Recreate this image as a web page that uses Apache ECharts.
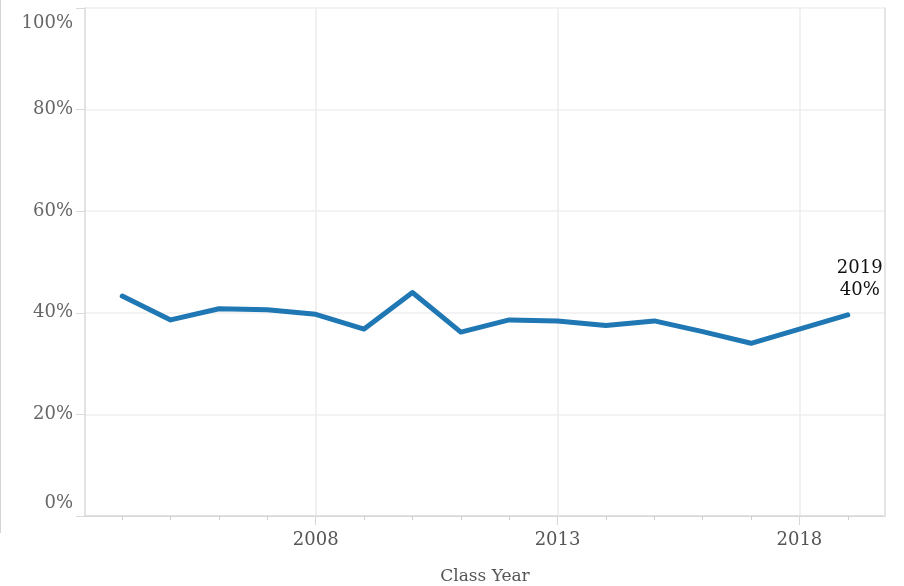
<!DOCTYPE html>
<html>
<head>
<meta charset="utf-8">
<script src="https://cdn.jsdelivr.net/npm/echarts@6/dist/echarts.min.js"></script>
<style>
  html, body { margin: 0; padding: 0; background: #fff; }
  #wrap { position: relative; width: 904px; height: 586px; }
  #edge { position: absolute; left: 0; top: 0; width: 1px; height: 533px; background: #d4d4d4; }
  #chart { position: absolute; left: 0; top: 0; width: 904px; height: 586px; }
</style>
</head>
<body>
<div id="wrap">
  <div id="chart"></div>
  <div id="edge"></div>
</div>
<script>
const years = [2004, 2005, 2006, 2007, 2008, 2009, 2010, 2011, 2012, 2013, 2014, 2015, 2016, 2017, 2018, 2019]
const rates = [43.3, 38.6, 40.8, 40.6, 39.7, 36.8, 44.0, 36.2, 38.6, 38.4, 37.5, 38.4, 36.3, 34.0, 36.8, 39.6]
const yearLabels = [2008, 2013, 2018]

const font = 'DejaVu Serif'
const xMin = 2003.23
const xMax = 2019.77

const myChart = echarts.init(document.getElementById('chart'))

const points = years.map((y, i) => {
  const item = {value: [y, rates[i]]}
  if (i === years.length - 1) {
    item.label = {
      show: true,
      position: 'top',
      distance: 14,
      offset: [12, 0],
      color: '#111',
      fontFamily: font,
      fontSize: 18,
      lineHeight: 22,
      formatter: p => p.value[0] + '\n' + Math.round(p.value[1]) + '%'
    }
  }
  return item
})

const options = {
  animation: false,
  grid: {left: 85, top: 8, right: 19, bottom: 70, outerBoundsMode: 'none', containLabel: false},
  xAxis: [
    {
      type: 'value',
      min: xMin,
      max: xMax,
      axisLine: {show: true, lineStyle: {color: '#c4c4c4', type: [3, 2], width: 1}},
      axisTick: {show: true, length: 4, customValues: years, lineStyle: {color: '#cfcfcf'}},
      axisLabel: {show: false},
      splitLine: {show: false}
    },
    {
      type: 'value',
      position: 'top',
      min: xMin,
      max: xMax,
      axisLine: {show: true, lineStyle: {color: '#dcdcdc', width: 1.5}},
      axisTick: {show: false},
      axisLabel: {show: false},
      splitLine: {show: false}
    },
    {
      type: 'value',
      position: 'bottom',
      min: xMin,
      max: xMax,
      name: 'Class Year',
      nameLocation: 'middle',
      nameGap: 52,
      nameTextStyle: {color: '#555', fontFamily: font, fontSize: 17},
      axisLine: {show: false},
      axisTick: {show: true, length: 9, customValues: yearLabels, lineStyle: {color: '#d6d6d6'}},
      axisLabel: {
        show: true,
        customValues: yearLabels,
        margin: 15,
        color: '#555',
        fontFamily: font,
        fontSize: 18,
        formatter: v => String(v)
      },
      splitLine: {show: true, lineStyle: {color: '#ececec', width: 1.5}}
    }
  ],
  yAxis: [
    {
      type: 'value',
      min: 0,
      max: 100,
      interval: 20,
      axisLine: {show: true, lineStyle: {color: '#dadada', width: 1.5}},
      axisTick: {show: true, length: 9, lineStyle: {color: '#dadada'}},
      axisLabel: {
        color: '#666',
        fontFamily: font,
        fontSize: 18,
        margin: 12,
        verticalAlignMinLabel: 'bottom',
        verticalAlignMaxLabel: 'top',
        formatter: v => v === 100 ? '{top|' + v + '%}' : v === 0 ? '{bot|' + v + '%}' : v + '%',
        rich: {
          top: {color: '#666', fontFamily: font, fontSize: 18, padding: [6, 0, 0, 0]},
          bot: {color: '#666', fontFamily: font, fontSize: 18, padding: [0, 0, 4, 0]}
        }
      },
      splitLine: {show: true, lineStyle: {color: '#efefef', width: 1.5}}
    },
    {
      type: 'value',
      position: 'right',
      min: 0,
      max: 100,
      axisLine: {show: true, lineStyle: {color: '#dcdcdc', width: 1.5}},
      axisTick: {show: false},
      axisLabel: {show: false},
      splitLine: {show: false}
    }
  ],
  series: [
    {
      type: 'line',
      xAxisIndex: 0,
      yAxisIndex: 0,
      data: points,
      showSymbol: true,
      symbol: 'circle',
      symbolSize: 0,
      lineStyle: {color: '#1f77b4', width: 5, cap: 'round', join: 'round'},
      itemStyle: {color: '#1f77b4'},
      z: 5
    }
  ]
}

myChart.setOption(options)
</script>
</body>
</html>
